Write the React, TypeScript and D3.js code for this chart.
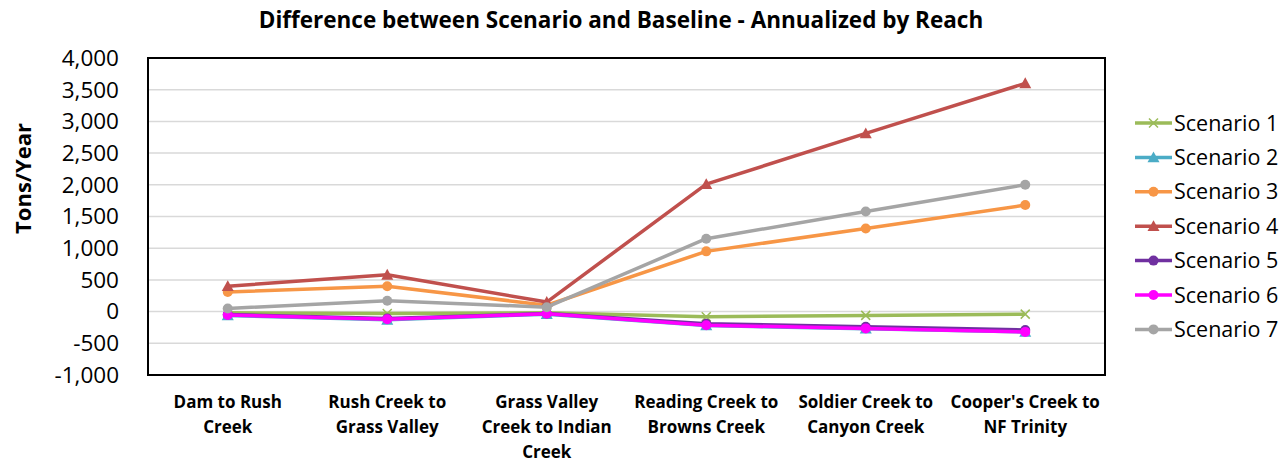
import React from "react";
import * as d3 from "d3";

const categories: string[][] = [
  ["Dam to Rush", "Creek"],
  ["Rush Creek to", "Grass Valley"],
  ["Grass Valley", "Creek to Indian", "Creek"],
  ["Reading Creek to", "Browns Creek"],
  ["Soldier Creek to", "Canyon Creek"],
  ["Cooper's Creek to", "NF Trinity"],
];

const seriesNames = ["Scenario 1", "Scenario 2", "Scenario 3", "Scenario 4", "Scenario 5", "Scenario 6", "Scenario 7"];
const scenario1 = [-20, -30, -20, -80, -60, -40];
const scenario2 = [-60, -130, -40, -220, -270, -320];
const scenario3 = [310, 400, 100, 950, 1310, 1680];
const scenario4 = [400, 580, 150, 2010, 2810, 3600];
const scenario5 = [-45, -110, -30, -190, -240, -290];
const scenario6 = [-55, -120, -35, -215, -265, -320];
const scenario7 = [50, 170, 70, 1150, 1580, 2000];
const seriesValues = [scenario1, scenario2, scenario3, scenario4, scenario5, scenario6, scenario7];
const seriesColors = ["#9bbb59", "#4bacc6", "#f79646", "#c0504d", "#7030a0", "#ff00ff", "#a5a5a5"];
const seriesMarkers = ["x", "triangle", "circle", "triangle", "circle", "circle", "circle"];
const yTicks = [-1000, -500, 0, 500, 1000, 1500, 2000, 2500, 3000, 3500, 4000];

const W = 1279;
const H = 465;
const plot = { left: 148, right: 1105, top: 58, bottom: 375 };

function Marker({ type, x, y, color }: { type: string; x: number; y: number; color: string }) {
  if (type === "circle") return <circle cx={x} cy={y} r={5} fill={color} />;
  if (type === "triangle") {
    const s = 6;
    return <path d={`M${x},${y - s}L${x + s},${y + s * 0.8}L${x - s},${y + s * 0.8}Z`} fill={color} />;
  }
  const s = 4.5;
  return (
    <path d={`M${x - s},${y - s}L${x + s},${y + s}M${x - s},${y + s}L${x + s},${y - s}`} stroke={color} strokeWidth={1.5} fill="none" />
  );
}

export default function App() {
  const x = d3
    .scaleBand<number>()
    .domain(categories.map((_, i) => i))
    .range([plot.left, plot.right]);
  const y = d3.scaleLinear().domain([-1000, 4000]).range([plot.bottom, plot.top]);
  const line = d3
    .line<number>()
    .x((_, i) => (x(i) as number) + x.bandwidth() / 2)
    .y((d) => y(d));
  const fmt = (v: number) => d3.format(",")(v).replace("\u2212", "-");
  const font = "'Open Sans', sans-serif";

  return (
    <svg width={W} height={H} style={{ position: "absolute", left: 0, top: 0, background: "#fff" }} fontFamily={font}>
      <rect x={0} y={0} width={W} height={H} fill="#fff" />
      <text x={621} y={28} textAnchor="middle" fontWeight="bold" fontSize={22.5} fill="#000">
        Difference between Scenario and Baseline - Annualized by Reach
      </text>
      {yTicks.map((t) => (
        <g key={t}>
          {t !== -1000 && t !== 4000 && (
            <line x1={plot.left} x2={plot.right} y1={y(t)} y2={y(t)} stroke="#d9d9d9" strokeWidth={1.5} />
          )}
          <text x={119} y={y(t)} dy="0.35em" textAnchor="end" fontSize={22.5} fill="#000">
            {fmt(t)}
          </text>
        </g>
      ))}
      <rect
        x={plot.left}
        y={plot.top}
        width={plot.right - plot.left}
        height={plot.bottom - plot.top}
        fill="none"
        stroke="#000"
        strokeWidth={2}
      />
      <text
        transform={`translate(31,${(122 + 235) / 2}) rotate(-90)`}
        textAnchor="middle"
        fontWeight="bold"
        fontSize={22}
        fill="#000"
      >
        Tons/Year
      </text>
      {categories.map((lines, i) => (
        <text
          key={i}
          x={(x(i) as number) + x.bandwidth() / 2}
          y={408}
          textAnchor="middle"
          fontWeight="bold"
          fontSize={17}
          fill="#000"
        >
          {lines.map((l, j) => (
            <tspan key={j} x={(x(i) as number) + x.bandwidth() / 2} dy={j === 0 ? 0 : 25}>
              {l}
            </tspan>
          ))}
        </text>
      ))}
      {seriesValues.map((vals, s) => (
        <g key={s}>
          <path d={line(vals) || ""} fill="none" stroke={seriesColors[s]} strokeWidth={3.5} strokeLinejoin="round" />
          {vals.map((v, i) => (
            <Marker key={i} type={seriesMarkers[s]} x={(x(i) as number) + x.bandwidth() / 2} y={y(v)} color={seriesColors[s]} />
          ))}
        </g>
      ))}
      {seriesNames.map((name, s) => {
        const ly = 123 + s * 34.4;
        return (
          <g key={name}>
            <line x1={1135} x2={1172} y1={ly} y2={ly} stroke={seriesColors[s]} strokeWidth={3.5} />
            <Marker type={seriesMarkers[s]} x={1153.5} y={ly} color={seriesColors[s]} />
            <text x={1174} y={ly} dy="0.35em" fontSize={21.5} fill="#000">
              {name}
            </text>
          </g>
        );
      })}
    </svg>
  );
}
